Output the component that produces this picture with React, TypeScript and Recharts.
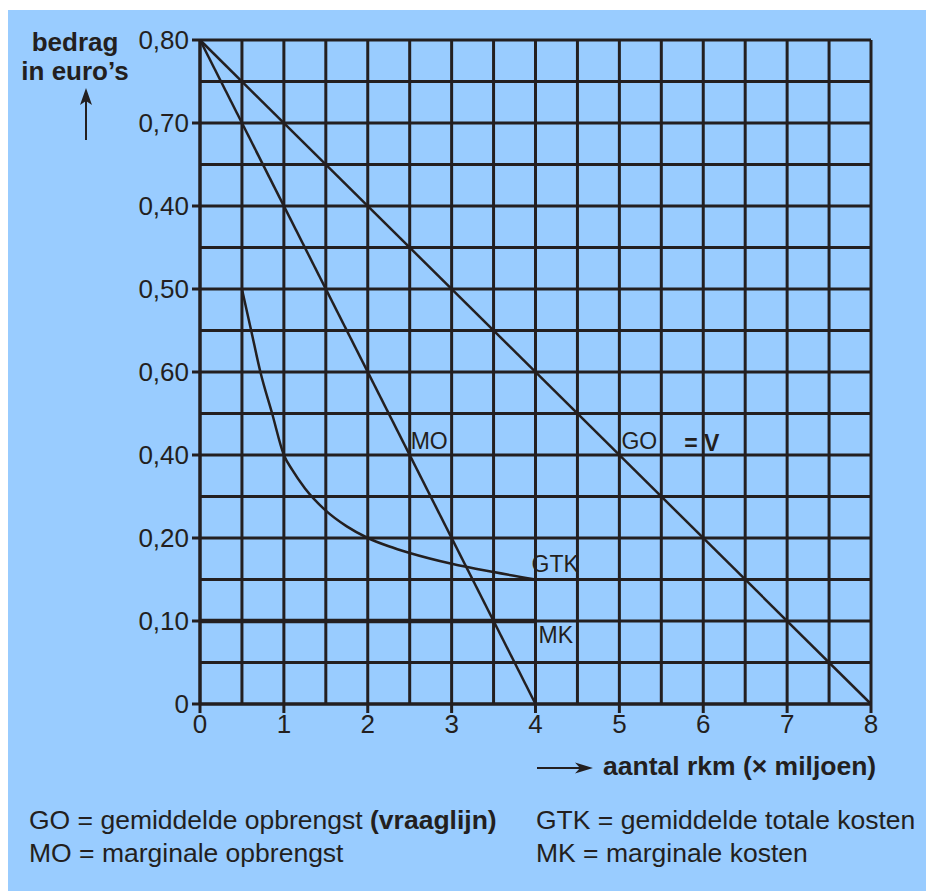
import React from "react";
import { LineChart, Line, XAxis, YAxis, CartesianGrid, ReferenceDot } from "recharts";

// ---- data ----
const xTicks = [0, 1, 2, 3, 4, 5, 6, 7, 8];
const yTicks = [0, 0.1, 0.2, 0.3, 0.4, 0.5, 0.6, 0.7, 0.8];
const yTickLabels = ["0", "0,10", "0,20", "0,40", "0,60", "0,50", "0,40", "0,70", "0,80"];
const gridX = [0, 0.5, 1, 1.5, 2, 2.5, 3, 3.5, 4, 4.5, 5, 5.5, 6, 6.5, 7, 7.5, 8];
const gridY = [0, 0.05, 0.1, 0.15, 0.2, 0.25, 0.3, 0.35, 0.4, 0.45, 0.5, 0.55, 0.6, 0.65, 0.7, 0.75, 0.8];

const goData = [
  { q: 0, p: 0.8 },
  { q: 8, p: 0 },
];
const moData = [
  { q: 0, p: 0.8 },
  { q: 4, p: 0 },
];
const mkData = [
  { q: 0, p: 0.1 },
  { q: 4, p: 0.1 },
];
const gtkData = [
  { q: 0.5, p: 0.5 },
  { q: 0.61, p: 0.45 },
  { q: 0.72, p: 0.4 },
  { q: 0.86, p: 0.35 },
  { q: 1.0, p: 0.3 },
  { q: 1.1, p: 0.282 },
  { q: 1.25, p: 0.26 },
  { q: 1.5, p: 0.233 },
  { q: 1.75, p: 0.214 },
  { q: 2.0, p: 0.2 },
  { q: 2.25, p: 0.19 },
  { q: 2.5, p: 0.182 },
  { q: 3.0, p: 0.169 },
  { q: 3.5, p: 0.159 },
  { q: 4.0, p: 0.15 },
];

const plotLabels = [
  { key: "mo", text: "MO", q: 2.5, p: 0.3 },
  { key: "go", text: "GO", q: 5, p: 0.3 },
  { key: "v", text: "= V", q: 5.75, p: 0.3 },
  { key: "gtk", text: "GTK", q: 4, p: 0.15 },
  { key: "mk", text: "MK", q: 4, p: 0.1 },
];

const legendRows = [
  ["GO = gemiddelde opbrengst ", "(vraaglijn)", "GTK = gemiddelde totale kosten"],
  ["MO = marginale opbrengst", "", "MK = marginale kosten"],
];

// ---- styles ----
const INK = "#231f20";
const BG = "#99ccff";
const FONT = "'Liberation Sans', Arial, Helvetica, sans-serif";

const labelOffsets: Record<string, { dx: number; dy: number; bold: boolean }> = {
  mo: { dx: 1, dy: -6, bold: false },
  go: { dx: 2, dy: -6, bold: false },
  v: { dx: 2, dy: -4, bold: true },
  gtk: { dx: -4, dy: -8, bold: false },
  mk: { dx: 3, dy: 22, bold: false },
};

const fmtY = (v: number) => {
  const i = yTicks.findIndex((t) => Math.abs(t - v) < 1e-9);
  return i >= 0 ? yTickLabels[i] : "";
};

export default function App() {
  return (
    <div
      style={{
        position: "absolute",
        left: 0,
        top: 0,
        width: 926,
        height: 891,
        background: "#ffffff",
        fontFamily: FONT,
        overflow: "hidden",
      }}
    >
      <div style={{ position: "absolute", left: 8, top: 10, width: 918, height: 881, background: BG }} />
      <div style={{ position: "absolute", left: 0, top: 0 }}>
        <LineChart width={926} height={891} margin={{ top: 40, right: 55, bottom: 147, left: 130 }}>
          <CartesianGrid
            stroke={INK}
            strokeWidth={3}
            horizontalValues={gridY}
            verticalValues={gridX}
            fill="none"
          />
          <XAxis
            type="number"
            dataKey="q"
            domain={[0, 8]}
            ticks={xTicks}
            interval={0}
            height={40}
            tickSize={9}
            tickMargin={2}
            axisLine={{ stroke: INK, strokeWidth: 3 }}
            tickLine={{ stroke: INK, strokeWidth: 3 }}
            tick={{ fontSize: 26, fill: INK, fontFamily: FONT }}
          />
          <YAxis
            type="number"
            dataKey="p"
            domain={[0, 0.8]}
            ticks={yTicks}
            interval={0}
            width={70}
            tickSize={8}
            tickMargin={3}
            tickFormatter={fmtY}
            axisLine={{ stroke: INK, strokeWidth: 3 }}
            tickLine={{ stroke: INK, strokeWidth: 3 }}
            tick={{ fontSize: 26, fill: INK, fontFamily: FONT }}
          />
          <Line data={goData} dataKey="p" type="linear" stroke={INK} strokeWidth={2.5} dot={false} isAnimationActive={false} />
          <Line data={moData} dataKey="p" type="linear" stroke={INK} strokeWidth={2.5} dot={false} isAnimationActive={false} />
          <Line data={mkData} dataKey="p" type="linear" stroke={INK} strokeWidth={4.5} dot={false} isAnimationActive={false} />
          <Line data={gtkData} dataKey="p" type="monotone" stroke={INK} strokeWidth={2.5} dot={false} isAnimationActive={false} />
          {plotLabels.map((l) => {
            const o = labelOffsets[l.key];
            return (
              <ReferenceDot
                key={l.key}
                x={l.q}
                y={l.p}
                r={0}
                ifOverflow="visible"
                shape={(props: any) => (
                  <text
                    x={props.cx + o.dx}
                    y={props.cy + o.dy}
                    fontSize={23}
                    fontWeight={o.bold ? "bold" : "normal"}
                    fill={INK}
                    fontFamily={FONT}
                  >
                    {l.text}
                  </text>
                )}
              />
            );
          })}
        </LineChart>
      </div>
      <svg
        width={926}
        height={891}
        style={{ position: "absolute", left: 0, top: 0, pointerEvents: "none" }}
        fontFamily={FONT}
        fill={INK}
      >
        <text x={75} y={51} fontSize={26} fontWeight="bold" textAnchor="middle">
          bedrag
        </text>
        <text x={75} y={80} fontSize={26} fontWeight="bold" textAnchor="middle">
          in euro’s
        </text>
        <line x1={86} y1={140} x2={86} y2={98} stroke={INK} strokeWidth={2} />
        <polygon points="86,88 80,105 86,101 92,105" fill={INK} />
        <line x1={537} y1={768} x2={582} y2={768} stroke={INK} strokeWidth={2} />
        <polygon points="593,768 575,762.5 580,768 575,773.5" fill={INK} />
        <text x={603} y={775} fontSize={26.5} fontWeight="bold">
          aantal rkm (× miljoen)
        </text>
        {legendRows.map((row, i) => (
          <g key={i}>
            <text x={29} y={829 + i * 33} fontSize={26.5}>
              {row[0]}
              {row[1] ? <tspan fontWeight="bold">{row[1]}</tspan> : null}
            </text>
            <text x={536} y={829 + i * 33} fontSize={26.5}>
              {row[2]}
            </text>
          </g>
        ))}
      </svg>
    </div>
  );
}
